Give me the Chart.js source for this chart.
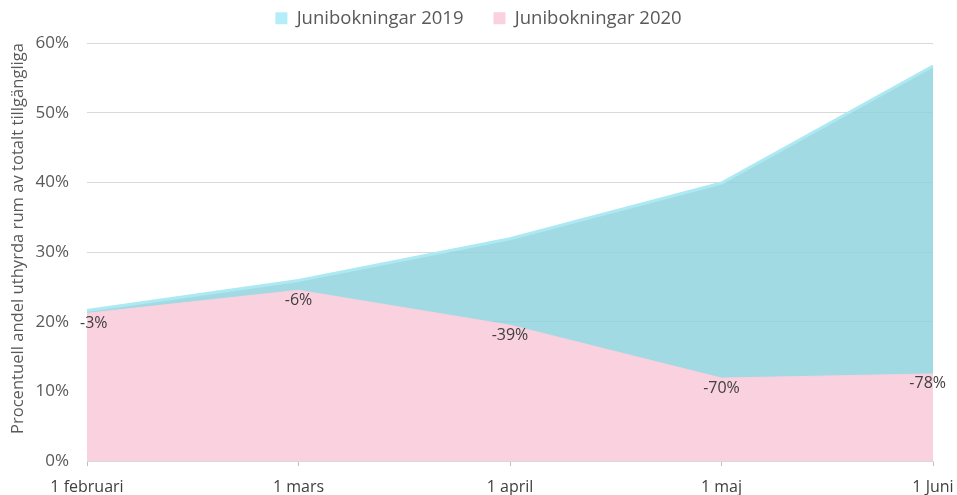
<!DOCTYPE html>
<html>
<head>
<meta charset="utf-8">
<script src="https://cdn.jsdelivr.net/npm/chart.js@4"></script>
<style>
  html, body { margin: 0; padding: 0; background: #fff; }
  #wrap { width: 957px; height: 495px; }
</style>
</head>
<body>
<div id="wrap"><canvas id="bookChart"></canvas></div>
<script>
const months = ["1 februari", "1 mars", "1 april", "1 maj", "1 Juni"];
const bookings2019 = [21.6, 25.9, 31.9, 39.9, 56.7];
const bookings2020 = [21.2, 24.5, 19.5, 11.9, 12.5];
const changeLabels = ["-3%", "-6%", "-39%", "-70%", "-78%"];

const FONT = "'Open Sans', sans-serif";

// draws the -x% change labels under the 2020 points
const changeLabelPlugin = {
  id: 'changeLabels',
  afterLayout(chart) {
    // wide gap between legend items but legend kept near the top
    chart.legend.top -= 21;
    chart.legend.height = chart.legend.bottom - chart.legend.top;
  },
  afterDatasetsDraw(chart) {
    const meta = chart.getDatasetMeta(1);
    const ctx = chart.ctx;
    const area = chart.chartArea;
    ctx.save();
    ctx.font = "16px " + FONT;
    ctx.fillStyle = "#404040";
    ctx.textAlign = "center";
    ctx.textBaseline = "middle";
    meta.data.forEach((pt, i) => {
      const w = ctx.measureText(changeLabels[i]).width;
      let x = pt.x;
      x = Math.max(x, area.left + w / 2 - 7);
      x = Math.min(x, area.right - w / 2 + 13);
      ctx.fillText(changeLabels[i], x, pt.y + 10);
    });
    ctx.restore();
  }
};

const bookChart = new Chart(document.getElementById("bookChart"), {
  type: 'line',
  data: {
    labels: months,
    datasets: [
      {
        label: 'Junibokningar 2019',
        data: bookings2019,
        order: 1,
        fill: 'origin',
        backgroundColor: 'rgba(141,210,221,0.82)',
        borderColor: '#ade9f3',
        borderWidth: 3,
        pointRadius: 0,
        tension: 0
      },
      {
        label: 'Junibokningar 2020',
        data: bookings2020,
        order: 0,
        fill: 'origin',
        backgroundColor: '#f9d1df',
        borderColor: '#f9d1df',
        borderWidth: 1,
        pointRadius: 0,
        tension: 0
      }
    ]
  },
  options: {
    responsive: true,
    maintainAspectRatio: false,
    animation: false,
    layout: { padding: { top: 0, right: 0, left: 0, bottom: 0 } },
    plugins: {
      tooltip: { enabled: false },
      legend: {
        position: 'top',
        maxHeight: 43,
        labels: {
          font: { family: FONT, size: 18.5 },
          color: '#595959',
          boxWidth: 12,
          boxHeight: 12,
          padding: 30,
          sort: (a, b) => a.datasetIndex - b.datasetIndex,
          generateLabels(chart) {
            return chart.data.datasets.map((ds, i) => ({
              text: ds.label,
              fillStyle: i === 0 ? '#b3eef8' : '#f9d1df',
              strokeStyle: 'transparent',
              lineWidth: 0,
              datasetIndex: i,
              fontColor: '#595959'
            }));
          }
        }
      }
    },
    scales: {
      x: {
        offset: false,
        grid: { drawOnChartArea: false, drawTicks: true, tickLength: 5, tickColor: '#bfbfbf' },
        border: { color: '#d9d9d9' },
        ticks: {
          font: { family: FONT, size: 16 },
          color: '#404040',
          padding: 12,
          maxRotation: 0,
          autoSkip: false
        },
        afterFit(scale) {
          scale.height = 34;
          scale.paddingRight = 24;
          scale.paddingLeft = 0;
        }
      },
      y: {
        min: 0,
        max: 60,
        grid: { color: '#d9d9d9', drawTicks: false },
        border: { display: false },
        ticks: {
          stepSize: 10,
          font: { family: FONT, size: 17 },
          color: '#595959',
          padding: 18,
          callback: v => v + '%'
        },
        title: {
          display: true,
          align: 'end',
          text: 'Procentuell andel uthyrda rum av totalt tillgängliga',
          font: { family: FONT, size: 16.6 },
          color: '#595959',
          padding: { top: 8, bottom: 0 }
        },
        afterFit(scale) { scale.width = 87; }
      }
    }
  },
  plugins: [changeLabelPlugin]
});
</script>
</body>
</html>
